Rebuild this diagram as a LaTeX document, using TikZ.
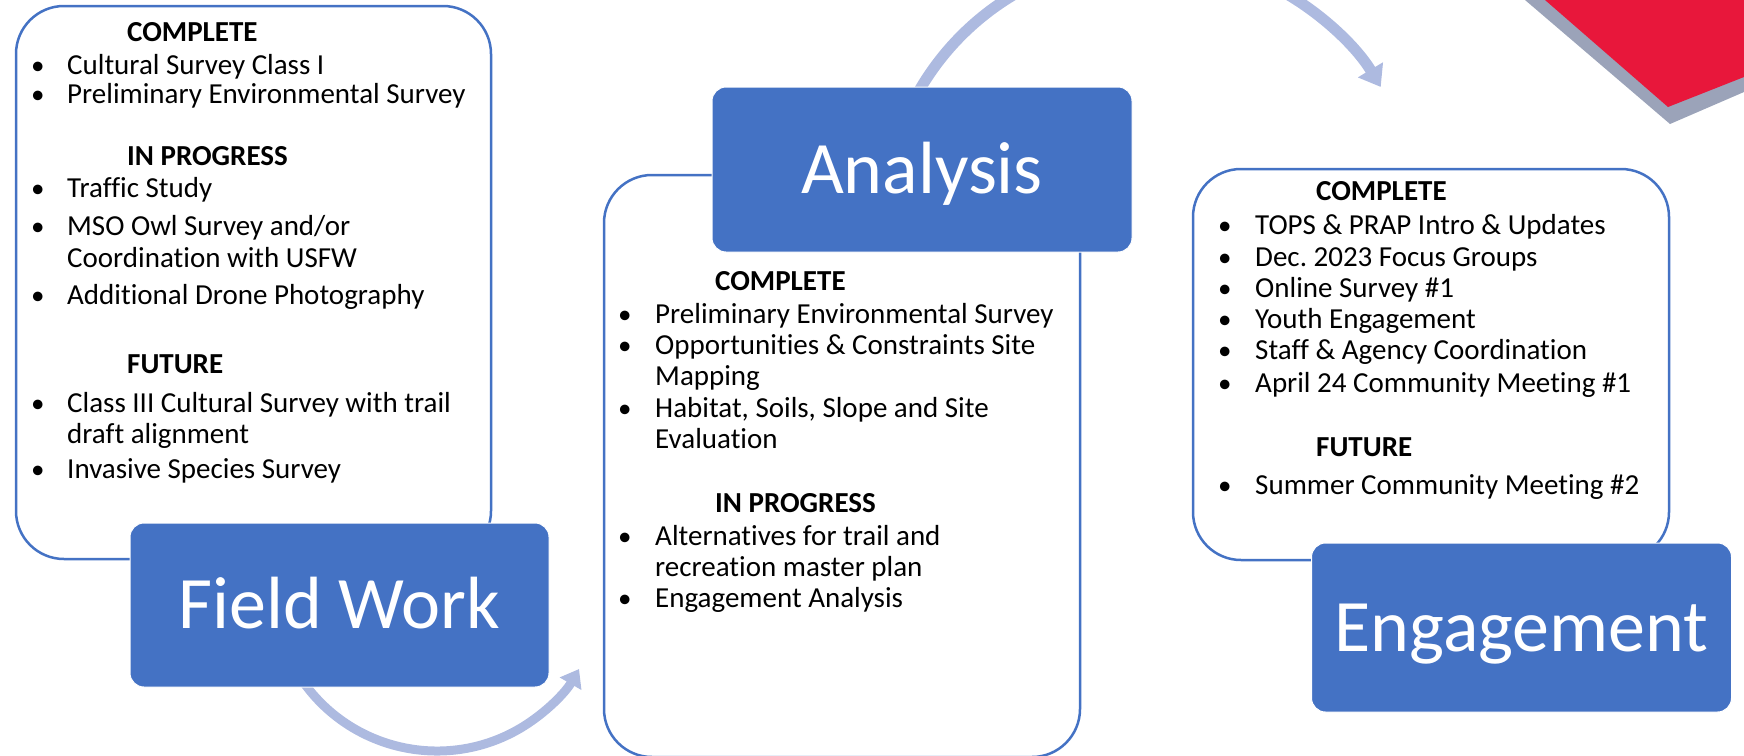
\documentclass[tikz,border=0pt]{standalone}
\usepackage{fontspec}
\setmainfont{Carlito}[Ligatures=NoCommon]
\frenchspacing
\usetikzlibrary{arrows.meta,calc}

\definecolor{stageblue}{HTML}{4472C4}
\definecolor{arrowblue}{RGB}{173,186,224}
\definecolor{cornerred}{HTML}{E8173B}
\definecolor{cornergray}{RGB}{155,163,185}

\begin{document}
\begin{tikzpicture}[x=1pt,y=1pt,
    listbox/.style={draw=stageblue, line width=2.5pt, fill=white, rounded corners=48pt},
    stagebox/.style={fill=stageblue, draw=white, line width=1pt, rounded corners=14pt,
      text=white, font=\fontsize{74}{86}\selectfont, text height=47pt, text depth=0pt},
    head/.style={anchor=base west, inner sep=0pt, font=\fontsize{29}{31}\selectfont\bfseries},
    item/.style={anchor=base west, inner sep=0pt, font=\fontsize{29}{31}\selectfont},
    dot/.style={anchor=base west, inner sep=0pt, font=\fontsize{27}{31}\selectfont},
    cyclearrow/.style={draw=arrowblue, line width=#1}
    ]
    \useasboundingbox (0,0) rectangle (1744,-755);

    % corner of the slide
    \fill[cornergray] (1525,0) -- (1670,-124) -- (1744,-92) -- (1744,0) -- cycle;
    \fill[cornerred] (1545,0) -- (1668,-107) -- (1744,-77) -- (1744,0) -- cycle;

    % arrows between the stages
    \coordinate (topc) at (1151,-225);
    \coordinate (botc) at (437,-587);
    \coordinate (toparc) at ($(topc)+(150:268)$);
    \coordinate (botarc) at ($(botc)+(212:164)$);
    \draw[cyclearrow=11pt, -{Triangle[width=28pt,length=20pt]}]
      (toparc) arc[start angle=150, end angle=31, radius=268];
    \draw[cyclearrow=9pt, -{Triangle[width=24pt,length=17pt]}]
      (botarc) arc[start angle=212, end angle=330, radius=164];

    % lists
    \node[listbox, minimum width=475pt, minimum height=553pt] (fieldlist) at (253.5,-282.5) {};
    \node[listbox, minimum width=476pt, minimum height=582pt] (analysislist) at (842,-466) {};
    \node[listbox, minimum width=476pt, minimum height=391pt] (engagelist) at (1431,-364.5) {};

    % field work
    \foreach \y/\txt in {41/COMPLETE, 165/IN PROGRESS, 373/FUTURE}
      \node[head] (fh\y) at (127,-\y) {\txt};
    \foreach \y/\txt in {74/{Cultural Survey Class I}, 103/{Preliminary Environmental Survey},
        197/{Traffic Study}, 235/{MSO Owl Survey and/or}, 267/{Coordination with USFW},
        304/{Additional Drone Photography}, 412/{Class III Cultural Survey with trail},
        443/{draft alignment}, 478/{Invasive Species Survey}}
      \node[item] (fi\y) at (67,-\y) {\txt};
    \foreach \y in {74,103,197,235,304,412,478}
      \node[dot] (fb\y) at (31,-\y) {\textbullet};

    % analysis
    \foreach \y/\txt in {290/COMPLETE, 512/IN PROGRESS}
      \node[head] (ah\y) at (715,-\y) {\txt};
    \foreach \y/\txt in {323/{Preliminary Environmental Survey}, 354/{Opportunities \& Constraints Site},
        385/{Mapping}, 417/{Habitat, Soils, Slope and Site}, 448/{Evaluation},
        545/{Alternatives for trail and}, 576/{recreation master plan}, 607/{Engagement Analysis}}
      \node[item] (ai\y) at (655,-\y) {\txt};
    \foreach \y in {323,354,417,545,607}
      \node[dot] (ab\y) at (618,-\y) {\textbullet};

    % engagement
    \foreach \y/\txt in {200/COMPLETE, 456/FUTURE}
      \node[head] (eh\y) at (1316,-\y) {\txt};
    \foreach \y/\txt in {234/{TOPS \& PRAP Intro \& Updates}, 266/{Dec. 2023 Focus Groups},
        297/{Online Survey \#1}, 328/{Youth Engagement}, 359/{Staff \& Agency Coordination},
        392/{April 24 Community Meeting \#1}, 494/{Summer Community Meeting \#2}}
      \node[item] (ei\y) at (1255,-\y) {\txt};
    \foreach \y in {234,266,297,328,359,392,494}
      \node[dot] (eb\y) at (1218,-\y) {\textbullet};

    % stages
    \node[stagebox, minimum width=419pt, minimum height=164pt] (fieldwork) at (339.5,-605) {Field Work};
    \node[stagebox, minimum width=420pt, minimum height=165pt] (analysis) at (922,-169.5) {Analysis};
    \node[stagebox, minimum width=420pt, minimum height=169pt] (engagement) at (1521.5,-627.5) {Engagement};
  \end{tikzpicture}
\end{document}
